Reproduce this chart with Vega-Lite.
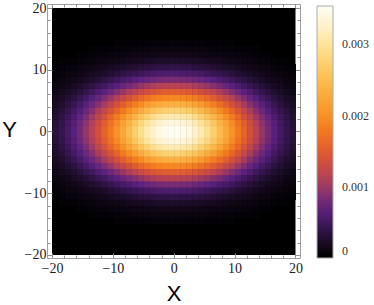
{
  "$schema": "https://vega.github.io/schema/vega-lite/v6.json",
  "width": 253,
  "height": 254,
  "autosize": "none",
  "padding": {"left": 47, "top": 4, "right": 74, "bottom": 47},
  "background": "#ffffff",
  "config": {"view": {"stroke": "#a0a0a0", "strokeWidth": 1}},
  "datasets": {
    "cells": [
{"x":-20,"y":-11,"v":0.000037},{"x":-20,"y":-10,"v":0.000056},{"x":-20,"y":-9,"v":0.00008},{"x":-20,"y":-8,"v":0.00011},{"x":-20,"y":-7,"v":0.000145},{"x":-20,"y":-6,"v":0.000185},{"x":-20,"y":-5,"v":0.000226},{"x":-20,"y":-4,"v":0.000265},{"x":-20,"y":-3,"v":0.000298},{"x":-20,"y":-2,"v":0.000323},{"x":-20,"y":-1,"v":0.000337},{"x":-20,"y":0,"v":0.000337},{"x":-20,"y":1,"v":0.000323},{"x":-20,"y":2,"v":0.000298},{"x":-20,"y":3,"v":0.000265},{"x":-20,"y":4,"v":0.000226},{"x":-20,"y":5,"v":0.000185},{"x":-20,"y":6,"v":0.000145},{"x":-20,"y":7,"v":0.00011},{"x":-20,"y":8,"v":0.00008},{"x":-20,"y":9,"v":0.000056},{"x":-20,"y":10,"v":0.000037},
{"x":-19,"y":-12,"v":0.00003},{"x":-19,"y":-11,"v":0.000047},{"x":-19,"y":-10,"v":0.00007},{"x":-19,"y":-9,"v":0.000101},{"x":-19,"y":-8,"v":0.000139},{"x":-19,"y":-7,"v":0.000184},{"x":-19,"y":-6,"v":0.000234},{"x":-19,"y":-5,"v":0.000285},{"x":-19,"y":-4,"v":0.000335},{"x":-19,"y":-3,"v":0.000377},{"x":-19,"y":-2,"v":0.000409},{"x":-19,"y":-1,"v":0.000426},{"x":-19,"y":0,"v":0.000426},{"x":-19,"y":1,"v":0.000409},{"x":-19,"y":2,"v":0.000377},{"x":-19,"y":3,"v":0.000335},{"x":-19,"y":4,"v":0.000285},{"x":-19,"y":5,"v":0.000234},{"x":-19,"y":6,"v":0.000184},{"x":-19,"y":7,"v":0.000139},{"x":-19,"y":8,"v":0.000101},{"x":-19,"y":9,"v":0.00007},{"x":-19,"y":10,"v":0.000047},{"x":-19,"y":11,"v":0.00003},
{"x":-18,"y":-12,"v":0.000038},{"x":-18,"y":-11,"v":0.000059},{"x":-18,"y":-10,"v":0.000088},{"x":-18,"y":-9,"v":0.000126},{"x":-18,"y":-8,"v":0.000173},{"x":-18,"y":-7,"v":0.000229},{"x":-18,"y":-6,"v":0.000292},{"x":-18,"y":-5,"v":0.000356},{"x":-18,"y":-4,"v":0.000418},{"x":-18,"y":-3,"v":0.000471},{"x":-18,"y":-2,"v":0.000511},{"x":-18,"y":-1,"v":0.000531},{"x":-18,"y":0,"v":0.000531},{"x":-18,"y":1,"v":0.000511},{"x":-18,"y":2,"v":0.000471},{"x":-18,"y":3,"v":0.000418},{"x":-18,"y":4,"v":0.000356},{"x":-18,"y":5,"v":0.000292},{"x":-18,"y":6,"v":0.000229},{"x":-18,"y":7,"v":0.000173},{"x":-18,"y":8,"v":0.000126},{"x":-18,"y":9,"v":0.000088},{"x":-18,"y":10,"v":0.000059},{"x":-18,"y":11,"v":0.000038},
{"x":-17,"y":-12,"v":0.000047},{"x":-17,"y":-11,"v":0.000073},{"x":-17,"y":-10,"v":0.000108},{"x":-17,"y":-9,"v":0.000155},{"x":-17,"y":-8,"v":0.000214},{"x":-17,"y":-7,"v":0.000283},{"x":-17,"y":-6,"v":0.00036},{"x":-17,"y":-5,"v":0.000439},{"x":-17,"y":-4,"v":0.000516},{"x":-17,"y":-3,"v":0.000581},{"x":-17,"y":-2,"v":0.00063},{"x":-17,"y":-1,"v":0.000655},{"x":-17,"y":0,"v":0.000655},{"x":-17,"y":1,"v":0.00063},{"x":-17,"y":2,"v":0.000581},{"x":-17,"y":3,"v":0.000516},{"x":-17,"y":4,"v":0.000439},{"x":-17,"y":5,"v":0.00036},{"x":-17,"y":6,"v":0.000283},{"x":-17,"y":7,"v":0.000214},{"x":-17,"y":8,"v":0.000155},{"x":-17,"y":9,"v":0.000108},{"x":-17,"y":10,"v":0.000073},{"x":-17,"y":11,"v":0.000047},
{"x":-16,"y":-13,"v":0.000035},{"x":-16,"y":-12,"v":0.000057},{"x":-16,"y":-11,"v":0.000088},{"x":-16,"y":-10,"v":0.000132},{"x":-16,"y":-9,"v":0.000189},{"x":-16,"y":-8,"v":0.000261},{"x":-16,"y":-7,"v":0.000345},{"x":-16,"y":-6,"v":0.000438},{"x":-16,"y":-5,"v":0.000535},{"x":-16,"y":-4,"v":0.000628},{"x":-16,"y":-3,"v":0.000708},{"x":-16,"y":-2,"v":0.000767},{"x":-16,"y":-1,"v":0.000799},{"x":-16,"y":0,"v":0.000799},{"x":-16,"y":1,"v":0.000767},{"x":-16,"y":2,"v":0.000708},{"x":-16,"y":3,"v":0.000628},{"x":-16,"y":4,"v":0.000535},{"x":-16,"y":5,"v":0.000438},{"x":-16,"y":6,"v":0.000345},{"x":-16,"y":7,"v":0.000261},{"x":-16,"y":8,"v":0.000189},{"x":-16,"y":9,"v":0.000132},{"x":-16,"y":10,"v":0.000088},{"x":-16,"y":11,"v":0.000057},{"x":-16,"y":12,"v":0.000035},
{"x":-15,"y":-13,"v":0.000042},{"x":-15,"y":-12,"v":0.000069},{"x":-15,"y":-11,"v":0.000107},{"x":-15,"y":-10,"v":0.000159},{"x":-15,"y":-9,"v":0.000228},{"x":-15,"y":-8,"v":0.000314},{"x":-15,"y":-7,"v":0.000415},{"x":-15,"y":-6,"v":0.000528},{"x":-15,"y":-5,"v":0.000644},{"x":-15,"y":-4,"v":0.000756},{"x":-15,"y":-3,"v":0.000852},{"x":-15,"y":-2,"v":0.000923},{"x":-15,"y":-1,"v":0.000961},{"x":-15,"y":0,"v":0.000961},{"x":-15,"y":1,"v":0.000923},{"x":-15,"y":2,"v":0.000852},{"x":-15,"y":3,"v":0.000756},{"x":-15,"y":4,"v":0.000644},{"x":-15,"y":5,"v":0.000528},{"x":-15,"y":6,"v":0.000415},{"x":-15,"y":7,"v":0.000314},{"x":-15,"y":8,"v":0.000228},{"x":-15,"y":9,"v":0.000159},{"x":-15,"y":10,"v":0.000107},{"x":-15,"y":11,"v":0.000069},{"x":-15,"y":12,"v":0.000042},
{"x":-14,"y":-14,"v":0.00003},{"x":-14,"y":-13,"v":0.00005},{"x":-14,"y":-12,"v":0.000082},{"x":-14,"y":-11,"v":0.000127},{"x":-14,"y":-10,"v":0.000189},{"x":-14,"y":-9,"v":0.000271},{"x":-14,"y":-8,"v":0.000373},{"x":-14,"y":-7,"v":0.000493},{"x":-14,"y":-6,"v":0.000627},{"x":-14,"y":-5,"v":0.000766},{"x":-14,"y":-4,"v":0.000899},{"x":-14,"y":-3,"v":0.001013},{"x":-14,"y":-2,"v":0.001098},{"x":-14,"y":-1,"v":0.001143},{"x":-14,"y":0,"v":0.001143},{"x":-14,"y":1,"v":0.001098},{"x":-14,"y":2,"v":0.001013},{"x":-14,"y":3,"v":0.000899},{"x":-14,"y":4,"v":0.000766},{"x":-14,"y":5,"v":0.000627},{"x":-14,"y":6,"v":0.000493},{"x":-14,"y":7,"v":0.000373},{"x":-14,"y":8,"v":0.000271},{"x":-14,"y":9,"v":0.000189},{"x":-14,"y":10,"v":0.000127},{"x":-14,"y":11,"v":0.000082},{"x":-14,"y":12,"v":0.00005},{"x":-14,"y":13,"v":0.00003},
{"x":-13,"y":-14,"v":0.000035},{"x":-13,"y":-13,"v":0.000059},{"x":-13,"y":-12,"v":0.000096},{"x":-13,"y":-11,"v":0.000149},{"x":-13,"y":-10,"v":0.000222},{"x":-13,"y":-9,"v":0.000318},{"x":-13,"y":-8,"v":0.000438},{"x":-13,"y":-7,"v":0.000579},{"x":-13,"y":-6,"v":0.000736},{"x":-13,"y":-5,"v":0.000899},{"x":-13,"y":-4,"v":0.001055},{"x":-13,"y":-3,"v":0.00119},{"x":-13,"y":-2,"v":0.001289},{"x":-13,"y":-1,"v":0.001341},{"x":-13,"y":0,"v":0.001341},{"x":-13,"y":1,"v":0.001289},{"x":-13,"y":2,"v":0.00119},{"x":-13,"y":3,"v":0.001055},{"x":-13,"y":4,"v":0.000899},{"x":-13,"y":5,"v":0.000736},{"x":-13,"y":6,"v":0.000579},{"x":-13,"y":7,"v":0.000438},{"x":-13,"y":8,"v":0.000318},{"x":-13,"y":9,"v":0.000222},{"x":-13,"y":10,"v":0.000149},{"x":-13,"y":11,"v":0.000096},{"x":-13,"y":12,"v":0.000059},{"x":-13,"y":13,"v":0.000035},
{"x":-12,"y":-14,"v":0.000041},{"x":-12,"y":-13,"v":0.000069},{"x":-12,"y":-12,"v":0.000111},{"x":-12,"y":-11,"v":0.000172},{"x":-12,"y":-10,"v":0.000257},{"x":-12,"y":-9,"v":0.000369},{"x":-12,"y":-8,"v":0.000508},{"x":-12,"y":-7,"v":0.000672},{"x":-12,"y":-6,"v":0.000854},{"x":-12,"y":-5,"v":0.001043},{"x":-12,"y":-4,"v":0.001224},{"x":-12,"y":-3,"v":0.00138},{"x":-12,"y":-2,"v":0.001495},{"x":-12,"y":-1,"v":0.001556},{"x":-12,"y":0,"v":0.001556},{"x":-12,"y":1,"v":0.001495},{"x":-12,"y":2,"v":0.00138},{"x":-12,"y":3,"v":0.001224},{"x":-12,"y":4,"v":0.001043},{"x":-12,"y":5,"v":0.000854},{"x":-12,"y":6,"v":0.000672},{"x":-12,"y":7,"v":0.000508},{"x":-12,"y":8,"v":0.000369},{"x":-12,"y":9,"v":0.000257},{"x":-12,"y":10,"v":0.000172},{"x":-12,"y":11,"v":0.000111},{"x":-12,"y":12,"v":0.000069},{"x":-12,"y":13,"v":0.000041},
{"x":-11,"y":-14,"v":0.000047},{"x":-11,"y":-13,"v":0.000079},{"x":-11,"y":-12,"v":0.000127},{"x":-11,"y":-11,"v":0.000197},{"x":-11,"y":-10,"v":0.000295},{"x":-11,"y":-9,"v":0.000422},{"x":-11,"y":-8,"v":0.000581},{"x":-11,"y":-7,"v":0.000769},{"x":-11,"y":-6,"v":0.000978},{"x":-11,"y":-5,"v":0.001194},{"x":-11,"y":-4,"v":0.001402},{"x":-11,"y":-3,"v":0.00158},{"x":-11,"y":-2,"v":0.001712},{"x":-11,"y":-1,"v":0.001782},{"x":-11,"y":0,"v":0.001782},{"x":-11,"y":1,"v":0.001712},{"x":-11,"y":2,"v":0.00158},{"x":-11,"y":3,"v":0.001402},{"x":-11,"y":4,"v":0.001194},{"x":-11,"y":5,"v":0.000978},{"x":-11,"y":6,"v":0.000769},{"x":-11,"y":7,"v":0.000581},{"x":-11,"y":8,"v":0.000422},{"x":-11,"y":9,"v":0.000295},{"x":-11,"y":10,"v":0.000197},{"x":-11,"y":11,"v":0.000127},{"x":-11,"y":12,"v":0.000079},{"x":-11,"y":13,"v":0.000047},
{"x":-10,"y":-15,"v":0.00003},{"x":-10,"y":-14,"v":0.000053},{"x":-10,"y":-13,"v":0.000089},{"x":-10,"y":-12,"v":0.000144},{"x":-10,"y":-11,"v":0.000223},{"x":-10,"y":-10,"v":0.000333},{"x":-10,"y":-9,"v":0.000478},{"x":-10,"y":-8,"v":0.000658},{"x":-10,"y":-7,"v":0.00087},{"x":-10,"y":-6,"v":0.001106},{"x":-10,"y":-5,"v":0.001351},{"x":-10,"y":-4,"v":0.001586},{"x":-10,"y":-3,"v":0.001788},{"x":-10,"y":-2,"v":0.001937},{"x":-10,"y":-1,"v":0.002016},{"x":-10,"y":0,"v":0.002016},{"x":-10,"y":1,"v":0.001937},{"x":-10,"y":2,"v":0.001788},{"x":-10,"y":3,"v":0.001586},{"x":-10,"y":4,"v":0.001351},{"x":-10,"y":5,"v":0.001106},{"x":-10,"y":6,"v":0.00087},{"x":-10,"y":7,"v":0.000658},{"x":-10,"y":8,"v":0.000478},{"x":-10,"y":9,"v":0.000333},{"x":-10,"y":10,"v":0.000223},{"x":-10,"y":11,"v":0.000144},{"x":-10,"y":12,"v":0.000089},{"x":-10,"y":13,"v":0.000053},{"x":-10,"y":14,"v":0.00003},
{"x":-9,"y":-15,"v":0.000034},{"x":-9,"y":-14,"v":0.000059},{"x":-9,"y":-13,"v":0.000099},{"x":-9,"y":-12,"v":0.000161},{"x":-9,"y":-11,"v":0.00025},{"x":-9,"y":-10,"v":0.000372},{"x":-9,"y":-9,"v":0.000534},{"x":-9,"y":-8,"v":0.000735},{"x":-9,"y":-7,"v":0.000973},{"x":-9,"y":-6,"v":0.001237},{"x":-9,"y":-5,"v":0.00151},{"x":-9,"y":-4,"v":0.001772},{"x":-9,"y":-3,"v":0.001998},{"x":-9,"y":-2,"v":0.002165},{"x":-9,"y":-1,"v":0.002253},{"x":-9,"y":0,"v":0.002253},{"x":-9,"y":1,"v":0.002165},{"x":-9,"y":2,"v":0.001998},{"x":-9,"y":3,"v":0.001772},{"x":-9,"y":4,"v":0.00151},{"x":-9,"y":5,"v":0.001237},{"x":-9,"y":6,"v":0.000973},{"x":-9,"y":7,"v":0.000735},{"x":-9,"y":8,"v":0.000534},{"x":-9,"y":9,"v":0.000372},{"x":-9,"y":10,"v":0.00025},{"x":-9,"y":11,"v":0.000161},{"x":-9,"y":12,"v":0.000099},{"x":-9,"y":13,"v":0.000059},{"x":-9,"y":14,"v":0.000034},
{"x":-8,"y":-15,"v":0.000037},{"x":-8,"y":-14,"v":0.000065},{"x":-8,"y":-13,"v":0.00011},{"x":-8,"y":-12,"v":0.000177},{"x":-8,"y":-11,"v":0.000276},{"x":-8,"y":-10,"v":0.000411},{"x":-8,"y":-9,"v":0.000589},{"x":-8,"y":-8,"v":0.000811},{"x":-8,"y":-7,"v":0.001074},{"x":-8,"y":-6,"v":0.001365},{"x":-8,"y":-5,"v":0.001667},{"x":-8,"y":-4,"v":0.001956},{"x":-8,"y":-3,"v":0.002206},{"x":-8,"y":-2,"v":0.002389},{"x":-8,"y":-1,"v":0.002487},{"x":-8,"y":0,"v":0.002487},{"x":-8,"y":1,"v":0.002389},{"x":-8,"y":2,"v":0.002206},{"x":-8,"y":3,"v":0.001956},{"x":-8,"y":4,"v":0.001667},{"x":-8,"y":5,"v":0.001365},{"x":-8,"y":6,"v":0.001074},{"x":-8,"y":7,"v":0.000811},{"x":-8,"y":8,"v":0.000589},{"x":-8,"y":9,"v":0.000411},{"x":-8,"y":10,"v":0.000276},{"x":-8,"y":11,"v":0.000177},{"x":-8,"y":12,"v":0.00011},{"x":-8,"y":13,"v":0.000065},{"x":-8,"y":14,"v":0.000037},
{"x":-7,"y":-15,"v":0.000041},{"x":-7,"y":-14,"v":0.000071},{"x":-7,"y":-13,"v":0.00012},{"x":-7,"y":-12,"v":0.000193},{"x":-7,"y":-11,"v":0.0003},{"x":-7,"y":-10,"v":0.000448},{"x":-7,"y":-9,"v":0.000642},{"x":-7,"y":-8,"v":0.000885},{"x":-7,"y":-7,"v":0.001171},{"x":-7,"y":-6,"v":0.001488},{"x":-7,"y":-5,"v":0.001818},{"x":-7,"y":-4,"v":0.002133},{"x":-7,"y":-3,"v":0.002405},{"x":-7,"y":-2,"v":0.002605},{"x":-7,"y":-1,"v":0.002711},{"x":-7,"y":0,"v":0.002711},{"x":-7,"y":1,"v":0.002605},{"x":-7,"y":2,"v":0.002405},{"x":-7,"y":3,"v":0.002133},{"x":-7,"y":4,"v":0.001818},{"x":-7,"y":5,"v":0.001488},{"x":-7,"y":6,"v":0.001171},{"x":-7,"y":7,"v":0.000885},{"x":-7,"y":8,"v":0.000642},{"x":-7,"y":9,"v":0.000448},{"x":-7,"y":10,"v":0.0003},{"x":-7,"y":11,"v":0.000193},{"x":-7,"y":12,"v":0.00012},{"x":-7,"y":13,"v":0.000071},{"x":-7,"y":14,"v":0.000041},
{"x":-6,"y":-15,"v":0.000044},{"x":-6,"y":-14,"v":0.000077},{"x":-6,"y":-13,"v":0.000129},{"x":-6,"y":-12,"v":0.000208},{"x":-6,"y":-11,"v":0.000324},{"x":-6,"y":-10,"v":0.000483},{"x":-6,"y":-9,"v":0.000692},{"x":-6,"y":-8,"v":0.000953},{"x":-6,"y":-7,"v":0.001261},{"x":-6,"y":-6,"v":0.001602},{"x":-6,"y":-5,"v":0.001957},{"x":-6,"y":-4,"v":0.002297},{"x":-6,"y":-3,"v":0.00259},{"x":-6,"y":-2,"v":0.002805},{"x":-6,"y":-1,"v":0.00292},{"x":-6,"y":0,"v":0.00292},{"x":-6,"y":1,"v":0.002805},{"x":-6,"y":2,"v":0.00259},{"x":-6,"y":3,"v":0.002297},{"x":-6,"y":4,"v":0.001957},{"x":-6,"y":5,"v":0.001602},{"x":-6,"y":6,"v":0.001261},{"x":-6,"y":7,"v":0.000953},{"x":-6,"y":8,"v":0.000692},{"x":-6,"y":9,"v":0.000483},{"x":-6,"y":10,"v":0.000324},{"x":-6,"y":11,"v":0.000208},{"x":-6,"y":12,"v":0.000129},{"x":-6,"y":13,"v":0.000077},{"x":-6,"y":14,"v":0.000044},
{"x":-5,"y":-15,"v":0.000047},{"x":-5,"y":-14,"v":0.000082},{"x":-5,"y":-13,"v":0.000137},{"x":-5,"y":-12,"v":0.000222},{"x":-5,"y":-11,"v":0.000344},{"x":-5,"y":-10,"v":0.000513},{"x":-5,"y":-9,"v":0.000736},{"x":-5,"y":-8,"v":0.001013},{"x":-5,"y":-7,"v":0.001341},{"x":-5,"y":-6,"v":0.001705},{"x":-5,"y":-5,"v":0.002082},{"x":-5,"y":-4,"v":0.002443},{"x":-5,"y":-3,"v":0.002755},{"x":-5,"y":-2,"v":0.002984},{"x":-5,"y":-1,"v":0.003106},{"x":-5,"y":0,"v":0.003106},{"x":-5,"y":1,"v":0.002984},{"x":-5,"y":2,"v":0.002755},{"x":-5,"y":3,"v":0.002443},{"x":-5,"y":4,"v":0.002082},{"x":-5,"y":5,"v":0.001705},{"x":-5,"y":6,"v":0.001341},{"x":-5,"y":7,"v":0.001013},{"x":-5,"y":8,"v":0.000736},{"x":-5,"y":9,"v":0.000513},{"x":-5,"y":10,"v":0.000344},{"x":-5,"y":11,"v":0.000222},{"x":-5,"y":12,"v":0.000137},{"x":-5,"y":13,"v":0.000082},{"x":-5,"y":14,"v":0.000047},
{"x":-4,"y":-15,"v":0.000049},{"x":-4,"y":-14,"v":0.000086},{"x":-4,"y":-13,"v":0.000144},{"x":-4,"y":-12,"v":0.000233},{"x":-4,"y":-11,"v":0.000362},{"x":-4,"y":-10,"v":0.000539},{"x":-4,"y":-9,"v":0.000773},{"x":-4,"y":-8,"v":0.001065},{"x":-4,"y":-7,"v":0.001409},{"x":-4,"y":-6,"v":0.001791},{"x":-4,"y":-5,"v":0.002187},{"x":-4,"y":-4,"v":0.002567},{"x":-4,"y":-3,"v":0.002894},{"x":-4,"y":-2,"v":0.003135},{"x":-4,"y":-1,"v":0.003263},{"x":-4,"y":0,"v":0.003263},{"x":-4,"y":1,"v":0.003135},{"x":-4,"y":2,"v":0.002894},{"x":-4,"y":3,"v":0.002567},{"x":-4,"y":4,"v":0.002187},{"x":-4,"y":5,"v":0.001791},{"x":-4,"y":6,"v":0.001409},{"x":-4,"y":7,"v":0.001065},{"x":-4,"y":8,"v":0.000773},{"x":-4,"y":9,"v":0.000539},{"x":-4,"y":10,"v":0.000362},{"x":-4,"y":11,"v":0.000233},{"x":-4,"y":12,"v":0.000144},{"x":-4,"y":13,"v":0.000086},{"x":-4,"y":14,"v":0.000049},
{"x":-3,"y":-15,"v":0.000051},{"x":-3,"y":-14,"v":0.000089},{"x":-3,"y":-13,"v":0.00015},{"x":-3,"y":-12,"v":0.000242},{"x":-3,"y":-11,"v":0.000375},{"x":-3,"y":-10,"v":0.00056},{"x":-3,"y":-9,"v":0.000802},{"x":-3,"y":-8,"v":0.001105},{"x":-3,"y":-7,"v":0.001462},{"x":-3,"y":-6,"v":0.001858},{"x":-3,"y":-5,"v":0.00227},{"x":-3,"y":-4,"v":0.002664},{"x":-3,"y":-3,"v":0.003003},{"x":-3,"y":-2,"v":0.003253},{"x":-3,"y":-1,"v":0.003386},{"x":-3,"y":0,"v":0.003386},{"x":-3,"y":1,"v":0.003253},{"x":-3,"y":2,"v":0.003003},{"x":-3,"y":3,"v":0.002664},{"x":-3,"y":4,"v":0.00227},{"x":-3,"y":5,"v":0.001858},{"x":-3,"y":6,"v":0.001462},{"x":-3,"y":7,"v":0.001105},{"x":-3,"y":8,"v":0.000802},{"x":-3,"y":9,"v":0.00056},{"x":-3,"y":10,"v":0.000375},{"x":-3,"y":11,"v":0.000242},{"x":-3,"y":12,"v":0.00015},{"x":-3,"y":13,"v":0.000089},{"x":-3,"y":14,"v":0.000051},
{"x":-2,"y":-15,"v":0.000052},{"x":-2,"y":-14,"v":0.000091},{"x":-2,"y":-13,"v":0.000153},{"x":-2,"y":-12,"v":0.000248},{"x":-2,"y":-11,"v":0.000385},{"x":-2,"y":-10,"v":0.000574},{"x":-2,"y":-9,"v":0.000822},{"x":-2,"y":-8,"v":0.001132},{"x":-2,"y":-7,"v":0.001498},{"x":-2,"y":-6,"v":0.001905},{"x":-2,"y":-5,"v":0.002327},{"x":-2,"y":-4,"v":0.00273},{"x":-2,"y":-3,"v":0.003078},{"x":-2,"y":-2,"v":0.003335},{"x":-2,"y":-1,"v":0.003471},{"x":-2,"y":0,"v":0.003471},{"x":-2,"y":1,"v":0.003335},{"x":-2,"y":2,"v":0.003078},{"x":-2,"y":3,"v":0.00273},{"x":-2,"y":4,"v":0.002327},{"x":-2,"y":5,"v":0.001905},{"x":-2,"y":6,"v":0.001498},{"x":-2,"y":7,"v":0.001132},{"x":-2,"y":8,"v":0.000822},{"x":-2,"y":9,"v":0.000574},{"x":-2,"y":10,"v":0.000385},{"x":-2,"y":11,"v":0.000248},{"x":-2,"y":12,"v":0.000153},{"x":-2,"y":13,"v":0.000091},{"x":-2,"y":14,"v":0.000052},
{"x":-1,"y":-15,"v":0.000053},{"x":-1,"y":-14,"v":0.000092},{"x":-1,"y":-13,"v":0.000155},{"x":-1,"y":-12,"v":0.000251},{"x":-1,"y":-11,"v":0.000389},{"x":-1,"y":-10,"v":0.000581},{"x":-1,"y":-9,"v":0.000833},{"x":-1,"y":-8,"v":0.001147},{"x":-1,"y":-7,"v":0.001517},{"x":-1,"y":-6,"v":0.001929},{"x":-1,"y":-5,"v":0.002356},{"x":-1,"y":-4,"v":0.002764},{"x":-1,"y":-3,"v":0.003117},{"x":-1,"y":-2,"v":0.003376},{"x":-1,"y":-1,"v":0.003514},{"x":-1,"y":0,"v":0.003514},{"x":-1,"y":1,"v":0.003376},{"x":-1,"y":2,"v":0.003117},{"x":-1,"y":3,"v":0.002764},{"x":-1,"y":4,"v":0.002356},{"x":-1,"y":5,"v":0.001929},{"x":-1,"y":6,"v":0.001517},{"x":-1,"y":7,"v":0.001147},{"x":-1,"y":8,"v":0.000833},{"x":-1,"y":9,"v":0.000581},{"x":-1,"y":10,"v":0.000389},{"x":-1,"y":11,"v":0.000251},{"x":-1,"y":12,"v":0.000155},{"x":-1,"y":13,"v":0.000092},{"x":-1,"y":14,"v":0.000053},
{"x":0,"y":-15,"v":0.000053},{"x":0,"y":-14,"v":0.000092},{"x":0,"y":-13,"v":0.000155},{"x":0,"y":-12,"v":0.000251},{"x":0,"y":-11,"v":0.000389},{"x":0,"y":-10,"v":0.000581},{"x":0,"y":-9,"v":0.000833},{"x":0,"y":-8,"v":0.001147},{"x":0,"y":-7,"v":0.001517},{"x":0,"y":-6,"v":0.001929},{"x":0,"y":-5,"v":0.002356},{"x":0,"y":-4,"v":0.002764},{"x":0,"y":-3,"v":0.003117},{"x":0,"y":-2,"v":0.003376},{"x":0,"y":-1,"v":0.003514},{"x":0,"y":0,"v":0.003514},{"x":0,"y":1,"v":0.003376},{"x":0,"y":2,"v":0.003117},{"x":0,"y":3,"v":0.002764},{"x":0,"y":4,"v":0.002356},{"x":0,"y":5,"v":0.001929},{"x":0,"y":6,"v":0.001517},{"x":0,"y":7,"v":0.001147},{"x":0,"y":8,"v":0.000833},{"x":0,"y":9,"v":0.000581},{"x":0,"y":10,"v":0.000389},{"x":0,"y":11,"v":0.000251},{"x":0,"y":12,"v":0.000155},{"x":0,"y":13,"v":0.000092},{"x":0,"y":14,"v":0.000053},
{"x":1,"y":-15,"v":0.000052},{"x":1,"y":-14,"v":0.000091},{"x":1,"y":-13,"v":0.000153},{"x":1,"y":-12,"v":0.000248},{"x":1,"y":-11,"v":0.000385},{"x":1,"y":-10,"v":0.000574},{"x":1,"y":-9,"v":0.000822},{"x":1,"y":-8,"v":0.001132},{"x":1,"y":-7,"v":0.001498},{"x":1,"y":-6,"v":0.001905},{"x":1,"y":-5,"v":0.002327},{"x":1,"y":-4,"v":0.00273},{"x":1,"y":-3,"v":0.003078},{"x":1,"y":-2,"v":0.003335},{"x":1,"y":-1,"v":0.003471},{"x":1,"y":0,"v":0.003471},{"x":1,"y":1,"v":0.003335},{"x":1,"y":2,"v":0.003078},{"x":1,"y":3,"v":0.00273},{"x":1,"y":4,"v":0.002327},{"x":1,"y":5,"v":0.001905},{"x":1,"y":6,"v":0.001498},{"x":1,"y":7,"v":0.001132},{"x":1,"y":8,"v":0.000822},{"x":1,"y":9,"v":0.000574},{"x":1,"y":10,"v":0.000385},{"x":1,"y":11,"v":0.000248},{"x":1,"y":12,"v":0.000153},{"x":1,"y":13,"v":0.000091},{"x":1,"y":14,"v":0.000052},
{"x":2,"y":-15,"v":0.000051},{"x":2,"y":-14,"v":0.000089},{"x":2,"y":-13,"v":0.00015},{"x":2,"y":-12,"v":0.000242},{"x":2,"y":-11,"v":0.000375},{"x":2,"y":-10,"v":0.00056},{"x":2,"y":-9,"v":0.000802},{"x":2,"y":-8,"v":0.001105},{"x":2,"y":-7,"v":0.001462},{"x":2,"y":-6,"v":0.001858},{"x":2,"y":-5,"v":0.00227},{"x":2,"y":-4,"v":0.002664},{"x":2,"y":-3,"v":0.003003},{"x":2,"y":-2,"v":0.003253},{"x":2,"y":-1,"v":0.003386},{"x":2,"y":0,"v":0.003386},{"x":2,"y":1,"v":0.003253},{"x":2,"y":2,"v":0.003003},{"x":2,"y":3,"v":0.002664},{"x":2,"y":4,"v":0.00227},{"x":2,"y":5,"v":0.001858},{"x":2,"y":6,"v":0.001462},{"x":2,"y":7,"v":0.001105},{"x":2,"y":8,"v":0.000802},{"x":2,"y":9,"v":0.00056},{"x":2,"y":10,"v":0.000375},{"x":2,"y":11,"v":0.000242},{"x":2,"y":12,"v":0.00015},{"x":2,"y":13,"v":0.000089},{"x":2,"y":14,"v":0.000051},
{"x":3,"y":-15,"v":0.000049},{"x":3,"y":-14,"v":0.000086},{"x":3,"y":-13,"v":0.000144},{"x":3,"y":-12,"v":0.000233},{"x":3,"y":-11,"v":0.000362},{"x":3,"y":-10,"v":0.000539},{"x":3,"y":-9,"v":0.000773},{"x":3,"y":-8,"v":0.001065},{"x":3,"y":-7,"v":0.001409},{"x":3,"y":-6,"v":0.001791},{"x":3,"y":-5,"v":0.002187},{"x":3,"y":-4,"v":0.002567},{"x":3,"y":-3,"v":0.002894},{"x":3,"y":-2,"v":0.003135},{"x":3,"y":-1,"v":0.003263},{"x":3,"y":0,"v":0.003263},{"x":3,"y":1,"v":0.003135},{"x":3,"y":2,"v":0.002894},{"x":3,"y":3,"v":0.002567},{"x":3,"y":4,"v":0.002187},{"x":3,"y":5,"v":0.001791},{"x":3,"y":6,"v":0.001409},{"x":3,"y":7,"v":0.001065},{"x":3,"y":8,"v":0.000773},{"x":3,"y":9,"v":0.000539},{"x":3,"y":10,"v":0.000362},{"x":3,"y":11,"v":0.000233},{"x":3,"y":12,"v":0.000144},{"x":3,"y":13,"v":0.000086},{"x":3,"y":14,"v":0.000049},
{"x":4,"y":-15,"v":0.000047},{"x":4,"y":-14,"v":0.000082},{"x":4,"y":-13,"v":0.000137},{"x":4,"y":-12,"v":0.000222},{"x":4,"y":-11,"v":0.000344},{"x":4,"y":-10,"v":0.000513},{"x":4,"y":-9,"v":0.000736},{"x":4,"y":-8,"v":0.001013},{"x":4,"y":-7,"v":0.001341},{"x":4,"y":-6,"v":0.001705},{"x":4,"y":-5,"v":0.002082},{"x":4,"y":-4,"v":0.002443},{"x":4,"y":-3,"v":0.002755},{"x":4,"y":-2,"v":0.002984},{"x":4,"y":-1,"v":0.003106},{"x":4,"y":0,"v":0.003106},{"x":4,"y":1,"v":0.002984},{"x":4,"y":2,"v":0.002755},{"x":4,"y":3,"v":0.002443},{"x":4,"y":4,"v":0.002082},{"x":4,"y":5,"v":0.001705},{"x":4,"y":6,"v":0.001341},{"x":4,"y":7,"v":0.001013},{"x":4,"y":8,"v":0.000736},{"x":4,"y":9,"v":0.000513},{"x":4,"y":10,"v":0.000344},{"x":4,"y":11,"v":0.000222},{"x":4,"y":12,"v":0.000137},{"x":4,"y":13,"v":0.000082},{"x":4,"y":14,"v":0.000047},
{"x":5,"y":-15,"v":0.000044},{"x":5,"y":-14,"v":0.000077},{"x":5,"y":-13,"v":0.000129},{"x":5,"y":-12,"v":0.000208},{"x":5,"y":-11,"v":0.000324},{"x":5,"y":-10,"v":0.000483},{"x":5,"y":-9,"v":0.000692},{"x":5,"y":-8,"v":0.000953},{"x":5,"y":-7,"v":0.001261},{"x":5,"y":-6,"v":0.001602},{"x":5,"y":-5,"v":0.001957},{"x":5,"y":-4,"v":0.002297},{"x":5,"y":-3,"v":0.00259},{"x":5,"y":-2,"v":0.002805},{"x":5,"y":-1,"v":0.00292},{"x":5,"y":0,"v":0.00292},{"x":5,"y":1,"v":0.002805},{"x":5,"y":2,"v":0.00259},{"x":5,"y":3,"v":0.002297},{"x":5,"y":4,"v":0.001957},{"x":5,"y":5,"v":0.001602},{"x":5,"y":6,"v":0.001261},{"x":5,"y":7,"v":0.000953},{"x":5,"y":8,"v":0.000692},{"x":5,"y":9,"v":0.000483},{"x":5,"y":10,"v":0.000324},{"x":5,"y":11,"v":0.000208},{"x":5,"y":12,"v":0.000129},{"x":5,"y":13,"v":0.000077},{"x":5,"y":14,"v":0.000044},
{"x":6,"y":-15,"v":0.000041},{"x":6,"y":-14,"v":0.000071},{"x":6,"y":-13,"v":0.00012},{"x":6,"y":-12,"v":0.000193},{"x":6,"y":-11,"v":0.0003},{"x":6,"y":-10,"v":0.000448},{"x":6,"y":-9,"v":0.000642},{"x":6,"y":-8,"v":0.000885},{"x":6,"y":-7,"v":0.001171},{"x":6,"y":-6,"v":0.001488},{"x":6,"y":-5,"v":0.001818},{"x":6,"y":-4,"v":0.002133},{"x":6,"y":-3,"v":0.002405},{"x":6,"y":-2,"v":0.002605},{"x":6,"y":-1,"v":0.002711},{"x":6,"y":0,"v":0.002711},{"x":6,"y":1,"v":0.002605},{"x":6,"y":2,"v":0.002405},{"x":6,"y":3,"v":0.002133},{"x":6,"y":4,"v":0.001818},{"x":6,"y":5,"v":0.001488},{"x":6,"y":6,"v":0.001171},{"x":6,"y":7,"v":0.000885},{"x":6,"y":8,"v":0.000642},{"x":6,"y":9,"v":0.000448},{"x":6,"y":10,"v":0.0003},{"x":6,"y":11,"v":0.000193},{"x":6,"y":12,"v":0.00012},{"x":6,"y":13,"v":0.000071},{"x":6,"y":14,"v":0.000041},
{"x":7,"y":-15,"v":0.000037},{"x":7,"y":-14,"v":0.000065},{"x":7,"y":-13,"v":0.00011},{"x":7,"y":-12,"v":0.000177},{"x":7,"y":-11,"v":0.000276},{"x":7,"y":-10,"v":0.000411},{"x":7,"y":-9,"v":0.000589},{"x":7,"y":-8,"v":0.000811},{"x":7,"y":-7,"v":0.001074},{"x":7,"y":-6,"v":0.001365},{"x":7,"y":-5,"v":0.001667},{"x":7,"y":-4,"v":0.001956},{"x":7,"y":-3,"v":0.002206},{"x":7,"y":-2,"v":0.002389},{"x":7,"y":-1,"v":0.002487},{"x":7,"y":0,"v":0.002487},{"x":7,"y":1,"v":0.002389},{"x":7,"y":2,"v":0.002206},{"x":7,"y":3,"v":0.001956},{"x":7,"y":4,"v":0.001667},{"x":7,"y":5,"v":0.001365},{"x":7,"y":6,"v":0.001074},{"x":7,"y":7,"v":0.000811},{"x":7,"y":8,"v":0.000589},{"x":7,"y":9,"v":0.000411},{"x":7,"y":10,"v":0.000276},{"x":7,"y":11,"v":0.000177},{"x":7,"y":12,"v":0.00011},{"x":7,"y":13,"v":0.000065},{"x":7,"y":14,"v":0.000037},
{"x":8,"y":-15,"v":0.000034},{"x":8,"y":-14,"v":0.000059},{"x":8,"y":-13,"v":0.000099},{"x":8,"y":-12,"v":0.000161},{"x":8,"y":-11,"v":0.00025},{"x":8,"y":-10,"v":0.000372},{"x":8,"y":-9,"v":0.000534},{"x":8,"y":-8,"v":0.000735},{"x":8,"y":-7,"v":0.000973},{"x":8,"y":-6,"v":0.001237},{"x":8,"y":-5,"v":0.00151},{"x":8,"y":-4,"v":0.001772},{"x":8,"y":-3,"v":0.001998},{"x":8,"y":-2,"v":0.002165},{"x":8,"y":-1,"v":0.002253},{"x":8,"y":0,"v":0.002253},{"x":8,"y":1,"v":0.002165},{"x":8,"y":2,"v":0.001998},{"x":8,"y":3,"v":0.001772},{"x":8,"y":4,"v":0.00151},{"x":8,"y":5,"v":0.001237},{"x":8,"y":6,"v":0.000973},{"x":8,"y":7,"v":0.000735},{"x":8,"y":8,"v":0.000534},{"x":8,"y":9,"v":0.000372},{"x":8,"y":10,"v":0.00025},{"x":8,"y":11,"v":0.000161},{"x":8,"y":12,"v":0.000099},{"x":8,"y":13,"v":0.000059},{"x":8,"y":14,"v":0.000034},
{"x":9,"y":-15,"v":0.00003},{"x":9,"y":-14,"v":0.000053},{"x":9,"y":-13,"v":0.000089},{"x":9,"y":-12,"v":0.000144},{"x":9,"y":-11,"v":0.000223},{"x":9,"y":-10,"v":0.000333},{"x":9,"y":-9,"v":0.000478},{"x":9,"y":-8,"v":0.000658},{"x":9,"y":-7,"v":0.00087},{"x":9,"y":-6,"v":0.001106},{"x":9,"y":-5,"v":0.001351},{"x":9,"y":-4,"v":0.001586},{"x":9,"y":-3,"v":0.001788},{"x":9,"y":-2,"v":0.001937},{"x":9,"y":-1,"v":0.002016},{"x":9,"y":0,"v":0.002016},{"x":9,"y":1,"v":0.001937},{"x":9,"y":2,"v":0.001788},{"x":9,"y":3,"v":0.001586},{"x":9,"y":4,"v":0.001351},{"x":9,"y":5,"v":0.001106},{"x":9,"y":6,"v":0.00087},{"x":9,"y":7,"v":0.000658},{"x":9,"y":8,"v":0.000478},{"x":9,"y":9,"v":0.000333},{"x":9,"y":10,"v":0.000223},{"x":9,"y":11,"v":0.000144},{"x":9,"y":12,"v":0.000089},{"x":9,"y":13,"v":0.000053},{"x":9,"y":14,"v":0.00003},
{"x":10,"y":-14,"v":0.000047},{"x":10,"y":-13,"v":0.000079},{"x":10,"y":-12,"v":0.000127},{"x":10,"y":-11,"v":0.000197},{"x":10,"y":-10,"v":0.000295},{"x":10,"y":-9,"v":0.000422},{"x":10,"y":-8,"v":0.000581},{"x":10,"y":-7,"v":0.000769},{"x":10,"y":-6,"v":0.000978},{"x":10,"y":-5,"v":0.001194},{"x":10,"y":-4,"v":0.001402},{"x":10,"y":-3,"v":0.00158},{"x":10,"y":-2,"v":0.001712},{"x":10,"y":-1,"v":0.001782},{"x":10,"y":0,"v":0.001782},{"x":10,"y":1,"v":0.001712},{"x":10,"y":2,"v":0.00158},{"x":10,"y":3,"v":0.001402},{"x":10,"y":4,"v":0.001194},{"x":10,"y":5,"v":0.000978},{"x":10,"y":6,"v":0.000769},{"x":10,"y":7,"v":0.000581},{"x":10,"y":8,"v":0.000422},{"x":10,"y":9,"v":0.000295},{"x":10,"y":10,"v":0.000197},{"x":10,"y":11,"v":0.000127},{"x":10,"y":12,"v":0.000079},{"x":10,"y":13,"v":0.000047},
{"x":11,"y":-14,"v":0.000041},{"x":11,"y":-13,"v":0.000069},{"x":11,"y":-12,"v":0.000111},{"x":11,"y":-11,"v":0.000172},{"x":11,"y":-10,"v":0.000257},{"x":11,"y":-9,"v":0.000369},{"x":11,"y":-8,"v":0.000508},{"x":11,"y":-7,"v":0.000672},{"x":11,"y":-6,"v":0.000854},{"x":11,"y":-5,"v":0.001043},{"x":11,"y":-4,"v":0.001224},{"x":11,"y":-3,"v":0.00138},{"x":11,"y":-2,"v":0.001495},{"x":11,"y":-1,"v":0.001556},{"x":11,"y":0,"v":0.001556},{"x":11,"y":1,"v":0.001495},{"x":11,"y":2,"v":0.00138},{"x":11,"y":3,"v":0.001224},{"x":11,"y":4,"v":0.001043},{"x":11,"y":5,"v":0.000854},{"x":11,"y":6,"v":0.000672},{"x":11,"y":7,"v":0.000508},{"x":11,"y":8,"v":0.000369},{"x":11,"y":9,"v":0.000257},{"x":11,"y":10,"v":0.000172},{"x":11,"y":11,"v":0.000111},{"x":11,"y":12,"v":0.000069},{"x":11,"y":13,"v":0.000041},
{"x":12,"y":-14,"v":0.000035},{"x":12,"y":-13,"v":0.000059},{"x":12,"y":-12,"v":0.000096},{"x":12,"y":-11,"v":0.000149},{"x":12,"y":-10,"v":0.000222},{"x":12,"y":-9,"v":0.000318},{"x":12,"y":-8,"v":0.000438},{"x":12,"y":-7,"v":0.000579},{"x":12,"y":-6,"v":0.000736},{"x":12,"y":-5,"v":0.000899},{"x":12,"y":-4,"v":0.001055},{"x":12,"y":-3,"v":0.00119},{"x":12,"y":-2,"v":0.001289},{"x":12,"y":-1,"v":0.001341},{"x":12,"y":0,"v":0.001341},{"x":12,"y":1,"v":0.001289},{"x":12,"y":2,"v":0.00119},{"x":12,"y":3,"v":0.001055},{"x":12,"y":4,"v":0.000899},{"x":12,"y":5,"v":0.000736},{"x":12,"y":6,"v":0.000579},{"x":12,"y":7,"v":0.000438},{"x":12,"y":8,"v":0.000318},{"x":12,"y":9,"v":0.000222},{"x":12,"y":10,"v":0.000149},{"x":12,"y":11,"v":0.000096},{"x":12,"y":12,"v":0.000059},{"x":12,"y":13,"v":0.000035},
{"x":13,"y":-14,"v":0.00003},{"x":13,"y":-13,"v":0.00005},{"x":13,"y":-12,"v":0.000082},{"x":13,"y":-11,"v":0.000127},{"x":13,"y":-10,"v":0.000189},{"x":13,"y":-9,"v":0.000271},{"x":13,"y":-8,"v":0.000373},{"x":13,"y":-7,"v":0.000493},{"x":13,"y":-6,"v":0.000627},{"x":13,"y":-5,"v":0.000766},{"x":13,"y":-4,"v":0.000899},{"x":13,"y":-3,"v":0.001013},{"x":13,"y":-2,"v":0.001098},{"x":13,"y":-1,"v":0.001143},{"x":13,"y":0,"v":0.001143},{"x":13,"y":1,"v":0.001098},{"x":13,"y":2,"v":0.001013},{"x":13,"y":3,"v":0.000899},{"x":13,"y":4,"v":0.000766},{"x":13,"y":5,"v":0.000627},{"x":13,"y":6,"v":0.000493},{"x":13,"y":7,"v":0.000373},{"x":13,"y":8,"v":0.000271},{"x":13,"y":9,"v":0.000189},{"x":13,"y":10,"v":0.000127},{"x":13,"y":11,"v":0.000082},{"x":13,"y":12,"v":0.00005},{"x":13,"y":13,"v":0.00003},
{"x":14,"y":-13,"v":0.000042},{"x":14,"y":-12,"v":0.000069},{"x":14,"y":-11,"v":0.000107},{"x":14,"y":-10,"v":0.000159},{"x":14,"y":-9,"v":0.000228},{"x":14,"y":-8,"v":0.000314},{"x":14,"y":-7,"v":0.000415},{"x":14,"y":-6,"v":0.000528},{"x":14,"y":-5,"v":0.000644},{"x":14,"y":-4,"v":0.000756},{"x":14,"y":-3,"v":0.000852},{"x":14,"y":-2,"v":0.000923},{"x":14,"y":-1,"v":0.000961},{"x":14,"y":0,"v":0.000961},{"x":14,"y":1,"v":0.000923},{"x":14,"y":2,"v":0.000852},{"x":14,"y":3,"v":0.000756},{"x":14,"y":4,"v":0.000644},{"x":14,"y":5,"v":0.000528},{"x":14,"y":6,"v":0.000415},{"x":14,"y":7,"v":0.000314},{"x":14,"y":8,"v":0.000228},{"x":14,"y":9,"v":0.000159},{"x":14,"y":10,"v":0.000107},{"x":14,"y":11,"v":0.000069},{"x":14,"y":12,"v":0.000042},
{"x":15,"y":-13,"v":0.000035},{"x":15,"y":-12,"v":0.000057},{"x":15,"y":-11,"v":0.000088},{"x":15,"y":-10,"v":0.000132},{"x":15,"y":-9,"v":0.000189},{"x":15,"y":-8,"v":0.000261},{"x":15,"y":-7,"v":0.000345},{"x":15,"y":-6,"v":0.000438},{"x":15,"y":-5,"v":0.000535},{"x":15,"y":-4,"v":0.000628},{"x":15,"y":-3,"v":0.000708},{"x":15,"y":-2,"v":0.000767},{"x":15,"y":-1,"v":0.000799},{"x":15,"y":0,"v":0.000799},{"x":15,"y":1,"v":0.000767},{"x":15,"y":2,"v":0.000708},{"x":15,"y":3,"v":0.000628},{"x":15,"y":4,"v":0.000535},{"x":15,"y":5,"v":0.000438},{"x":15,"y":6,"v":0.000345},{"x":15,"y":7,"v":0.000261},{"x":15,"y":8,"v":0.000189},{"x":15,"y":9,"v":0.000132},{"x":15,"y":10,"v":0.000088},{"x":15,"y":11,"v":0.000057},{"x":15,"y":12,"v":0.000035},
{"x":16,"y":-12,"v":0.000047},{"x":16,"y":-11,"v":0.000073},{"x":16,"y":-10,"v":0.000108},{"x":16,"y":-9,"v":0.000155},{"x":16,"y":-8,"v":0.000214},{"x":16,"y":-7,"v":0.000283},{"x":16,"y":-6,"v":0.00036},{"x":16,"y":-5,"v":0.000439},{"x":16,"y":-4,"v":0.000516},{"x":16,"y":-3,"v":0.000581},{"x":16,"y":-2,"v":0.00063},{"x":16,"y":-1,"v":0.000655},{"x":16,"y":0,"v":0.000655},{"x":16,"y":1,"v":0.00063},{"x":16,"y":2,"v":0.000581},{"x":16,"y":3,"v":0.000516},{"x":16,"y":4,"v":0.000439},{"x":16,"y":5,"v":0.00036},{"x":16,"y":6,"v":0.000283},{"x":16,"y":7,"v":0.000214},{"x":16,"y":8,"v":0.000155},{"x":16,"y":9,"v":0.000108},{"x":16,"y":10,"v":0.000073},{"x":16,"y":11,"v":0.000047},
{"x":17,"y":-12,"v":0.000038},{"x":17,"y":-11,"v":0.000059},{"x":17,"y":-10,"v":0.000088},{"x":17,"y":-9,"v":0.000126},{"x":17,"y":-8,"v":0.000173},{"x":17,"y":-7,"v":0.000229},{"x":17,"y":-6,"v":0.000292},{"x":17,"y":-5,"v":0.000356},{"x":17,"y":-4,"v":0.000418},{"x":17,"y":-3,"v":0.000471},{"x":17,"y":-2,"v":0.000511},{"x":17,"y":-1,"v":0.000531},{"x":17,"y":0,"v":0.000531},{"x":17,"y":1,"v":0.000511},{"x":17,"y":2,"v":0.000471},{"x":17,"y":3,"v":0.000418},{"x":17,"y":4,"v":0.000356},{"x":17,"y":5,"v":0.000292},{"x":17,"y":6,"v":0.000229},{"x":17,"y":7,"v":0.000173},{"x":17,"y":8,"v":0.000126},{"x":17,"y":9,"v":0.000088},{"x":17,"y":10,"v":0.000059},{"x":17,"y":11,"v":0.000038},
{"x":18,"y":-12,"v":0.00003},{"x":18,"y":-11,"v":0.000047},{"x":18,"y":-10,"v":0.00007},{"x":18,"y":-9,"v":0.000101},{"x":18,"y":-8,"v":0.000139},{"x":18,"y":-7,"v":0.000184},{"x":18,"y":-6,"v":0.000234},{"x":18,"y":-5,"v":0.000285},{"x":18,"y":-4,"v":0.000335},{"x":18,"y":-3,"v":0.000377},{"x":18,"y":-2,"v":0.000409},{"x":18,"y":-1,"v":0.000426},{"x":18,"y":0,"v":0.000426},{"x":18,"y":1,"v":0.000409},{"x":18,"y":2,"v":0.000377},{"x":18,"y":3,"v":0.000335},{"x":18,"y":4,"v":0.000285},{"x":18,"y":5,"v":0.000234},{"x":18,"y":6,"v":0.000184},{"x":18,"y":7,"v":0.000139},{"x":18,"y":8,"v":0.000101},{"x":18,"y":9,"v":0.00007},{"x":18,"y":10,"v":0.000047},{"x":18,"y":11,"v":0.00003},
{"x":19,"y":-11,"v":0.000037},{"x":19,"y":-10,"v":0.000056},{"x":19,"y":-9,"v":0.00008},{"x":19,"y":-8,"v":0.00011},{"x":19,"y":-7,"v":0.000145},{"x":19,"y":-6,"v":0.000185},{"x":19,"y":-5,"v":0.000226},{"x":19,"y":-4,"v":0.000265},{"x":19,"y":-3,"v":0.000298},{"x":19,"y":-2,"v":0.000323},{"x":19,"y":-1,"v":0.000337},{"x":19,"y":0,"v":0.000337},{"x":19,"y":1,"v":0.000323},{"x":19,"y":2,"v":0.000298},{"x":19,"y":3,"v":0.000265},{"x":19,"y":4,"v":0.000226},{"x":19,"y":5,"v":0.000185},{"x":19,"y":6,"v":0.000145},{"x":19,"y":7,"v":0.00011},{"x":19,"y":8,"v":0.00008},{"x":19,"y":9,"v":0.000056},{"x":19,"y":10,"v":0.000037}
    ]
  },
  "layer": [
    {
      "data": {"values": [{}]},
      "mark": {"type": "rect", "color": "#000000"},
      "encoding": {
        "x": {"datum": -20, "type": "quantitative", "scale": {"domain": [-20.82, 20.74], "nice": false, "zero": false},
              "axis": {"orient": "top", "title": null, "labels": false, "domain": false, "grid": false,
                       "values": [-20,-18,-16,-14,-12,-10,-8,-6,-4,-2,0,2,4,6,8,10,12,14,16,18,20],
                       "tickColor": "#909090", "tickSize": {"condition": {"test": "datum.value % 10 === 0", "value": -5}, "value": -3}}},
        "x2": {"datum": 20},
        "y": {"datum": -20, "type": "quantitative", "scale": {"domain": [-20.49, 20.65], "nice": false, "zero": false},
              "axis": {"orient": "right", "title": null, "labels": false, "domain": false, "grid": false,
                       "values": [-20,-18,-16,-14,-12,-10,-8,-6,-4,-2,0,2,4,6,8,10,12,14,16,18,20],
                       "tickColor": "#909090", "tickSize": {"condition": {"test": "datum.value % 10 === 0", "value": -5}, "value": -3}}},
        "y2": {"datum": 20}
      }
    },
    {
      "data": {"name": "cells"},
      "mark": {"type": "rect", "binSpacing": 0},
      "encoding": {
        "x": {"field": "x", "type": "quantitative", "bin": {"binned": true, "step": 1},
              "scale": {"domain": [-20.82, 20.74], "nice": false, "zero": false},
              "axis": {"orient": "bottom", "title": "X", "domain": false, "grid": false,
                       "values": [-20,-18,-16,-14,-12,-10,-8,-6,-4,-2,0,2,4,6,8,10,12,14,16,18,20],
                       "labelExpr": "datum.value % 10 === 0 ? datum.label : ''",
                       "tickColor": "#909090", "tickSize": {"condition": {"test": "datum.value % 10 === 0", "value": -5}, "value": -3},
                       "labelFont": "Liberation Serif, Times New Roman, serif", "labelFontSize": 14, "labelColor": "#222222", "labelPadding": 8,
                       "labelOverlap": false, "labelFlush": false,
                       "titleFont": "Liberation Sans", "titleFontSize": 22, "titleFontWeight": "normal", "titleColor": "#000000",
                       "titleY": 42, "titleBaseline": "alphabetic"}},
        "y": {"field": "y", "type": "quantitative", "bin": {"binned": true, "step": 1},
              "scale": {"domain": [-20.49, 20.65], "nice": false, "zero": false},
              "axis": {"orient": "left", "title": "Y", "domain": false, "grid": false,
                       "values": [-20,-18,-16,-14,-12,-10,-8,-6,-4,-2,0,2,4,6,8,10,12,14,16,18,20],
                       "labelExpr": "datum.value % 10 === 0 ? datum.label : ''",
                       "tickColor": "#909090", "tickSize": {"condition": {"test": "datum.value % 10 === 0", "value": -5}, "value": -3},
                       "labelFont": "Liberation Serif, Times New Roman, serif", "labelFontSize": 14, "labelColor": "#222222", "labelPadding": 6,
                       "labelOverlap": false, "labelFlush": false,
                       "titleFont": "Liberation Sans", "titleFontSize": 22, "titleFontWeight": "normal", "titleColor": "#000000",
                       "titleAngle": 0, "titleAlign": "center", "titleBaseline": "alphabetic", "titleX": -38, "titleY": 132}},
        "color": {"field": "v", "type": "quantitative",
                  "scale": {"domain": [0, 0.000248, 0.00046, 0.000672, 0.000884, 0.001096, 0.001344, 0.001592, 0.001839, 0.002087, 0.00237, 0.002653, 0.002936, 0.003219, 0.003537],
                            "range": ["#000000", "#1c0d28", "#3b1756", "#5b2181", "#83306f", "#b2405a", "#d14f3c", "#e8662a", "#f57f1e", "#fa9a2d", "#fcb142", "#fdc962", "#fee08f", "#fff0c4", "#fffdf6"],
                            "interpolate": "rgb"},
                  "legend": {"type": "gradient", "orient": "none", "legendX": 270, "legendY": 2, "direction": "vertical", "title": null,
                             "gradientLength": 252, "gradientThickness": 16, "values": [0, 0.001, 0.002, 0.003], "format": ".3~f",
                             "labelFont": "Liberation Serif, Times New Roman, serif", "labelFontSize": 12, "labelColor": "#333333", "labelOffset": 9,
                             "labelOverlap": false, "gradientStrokeColor": "#aaaaaa", "gradientStrokeWidth": 1}}
      }
    },
    {
      "data": {"name": "cells"},
      "mark": {"type": "rect", "binSpacing": 0},
      "encoding": {
        "x": {"field": "x", "type": "quantitative", "bin": {"binned": true, "step": 1}, "axis": null},
        "y": {"field": "y", "type": "quantitative", "bin": {"binned": true, "step": 1}, "axis": null},
        "color": {"field": "v", "type": "quantitative"}
      }
    }
  ],
  "resolve": {"axis": {"x": "independent", "y": "independent"}}
}
